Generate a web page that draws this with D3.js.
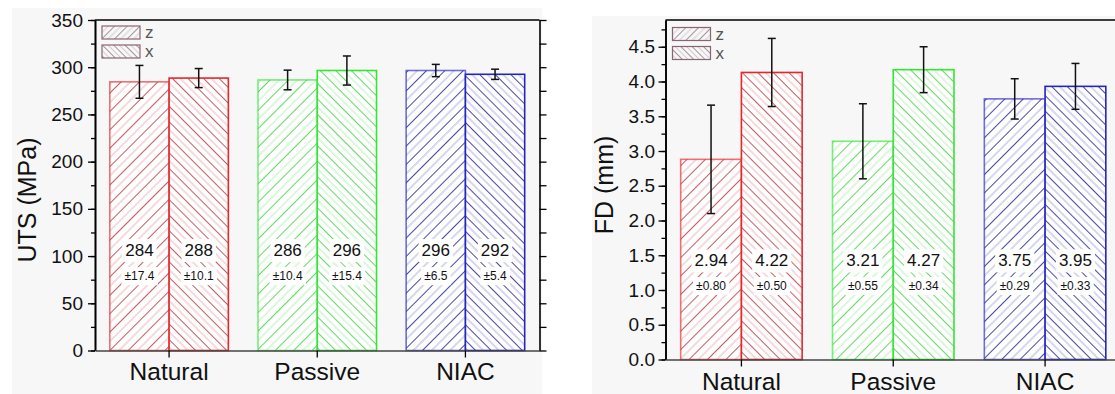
<!DOCTYPE html>
<html>
<head>
<meta charset="utf-8">
<script src="https://cdn.jsdelivr.net/npm/d3@7"></script>
<style>
	body { margin: 0; background: #fff; }
	svg { display: block; font-family: "Liberation Sans", Arial, sans-serif; }
</style>
</head>
<body>
<script>
(function () {
	"use strict";

	var w = 1115;
	var h = 394;

	// data
	var categories = ["Natural", "Passive", "NIAC"];
	var seriesNames = ["z", "x"];

	var utsZ = [284.5, 286.5, 296.5];
	var utsX = [288.5, 296.5, 292.5];
	var utsErrZ = [17.4, 10.4, 6.5];
	var utsErrX = [10.1, 15.4, 5.4];
	var utsTextZ = ["284", "286", "296"];
	var utsTextX = ["288", "296", "292"];
	var utsSdZ = ["±17.4", "±10.4", "±6.5"];
	var utsSdX = ["±10.1", "±15.4", "±5.4"];
	var utsTicks = [0, 50, 100, 150, 200, 250, 300, 350];

	var fdZ = [2.88, 3.14, 3.75];
	var fdX = [4.13, 4.17, 3.93];
	var fdErrZ = [0.78, 0.54, 0.29];
	var fdErrX = [0.49, 0.33, 0.33];
	var fdTextZ = ["2.94", "3.21", "3.75"];
	var fdTextX = ["4.22", "4.27", "3.95"];
	var fdSdZ = ["±0.80", "±0.55", "±0.29"];
	var fdSdX = ["±0.50", "±0.34", "±0.33"];
	var fdTicks = [0, 0.5, 1.0, 1.5, 2.0, 2.5, 3.0, 3.5, 4.0, 4.5];

	var edgeColors = ["#e8262a", "#33e633", "#2424c0"];
	var hatchColors = ["#c0484e", "#4fd64f", "#33339e"];

	var svg = d3.select("body")
		.append("svg")
		.attr("width", w)
		.attr("height", h);

	var defs = svg.append("defs");

	function makeHatch(id, color, angle, size) {
		var p = defs.append("pattern")
			.attr("id", id)
			.attr("patternUnits", "userSpaceOnUse")
			.attr("width", size * 2)
			.attr("height", size * 2)
			.attr("patternTransform", "rotate(" + angle + ")");
		p.append("line")
			.attr("x1", 0.5).attr("y1", 0).attr("x2", 0.5).attr("y2", size * 2)
			.attr("stroke", color).attr("stroke-width", 1).attr("opacity", 0.9);
		p.append("line")
			.attr("x1", size + 0.5).attr("y1", 0).attr("x2", size + 0.5).attr("y2", size * 2)
			.attr("stroke", color).attr("stroke-width", 1).attr("opacity", 0.4);
	}

	categories.forEach(function (c, i) {
		makeHatch("h-" + i + "-z", hatchColors[i], 45, 6.5);
		makeHatch("h-" + i + "-x", hatchColors[i], -45, 5.5);
	});
	makeHatch("h-leg-z", "#9a8a8e", 45, 4.5);
	makeHatch("h-leg-x", "#9a8a8e", -45, 4);

	// faint grey panels behind both plots
	svg.append("rect").attr("x", 12).attr("y", 8).attr("width", 530).attr("height", 386).attr("fill", "#f7f7f7");
	svg.append("rect").attr("x", 592).attr("y", 16).attr("width", 523).attr("height", 378).attr("fill", "#f7f7f7");

	function buildChart(cfg) {
		var g = svg.append("g");

		var xScale = d3.scaleBand()
			.domain(categories)
			.range([cfg.left, cfg.right])
			.paddingInner(0.2)
			.paddingOuter(0.1);

		var xSub = d3.scaleBand()
			.domain(seriesNames)
			.range([0, xScale.bandwidth()]);

		var yScale = d3.scaleLinear()
			.domain([0, cfg.max])
			.range([cfg.bottom, cfg.top]);

		var minor = d3.range(0, cfg.max + 1e-9, cfg.minorStep);

		// bars
		var series = [
			{ key: "z", vals: cfg.z, err: cfg.errZ, txt: cfg.textZ, sd: cfg.sdZ },
			{ key: "x", vals: cfg.x, err: cfg.errX, txt: cfg.textX, sd: cfg.sdX }
		];

		series.forEach(function (s) {
			g.selectAll(null)
				.data(categories)
				.enter()
				.append("rect")
				.attr("x", (d) => xScale(d) + xSub(s.key))
				.attr("y", (d, i) => yScale(s.vals[i]))
				.attr("width", xSub.bandwidth())
				.attr("height", (d, i) => yScale(0) - yScale(s.vals[i]))
				.attr("fill", "#fff")
				.clone()
				.attr("fill", (d, i) => "url(#h-" + i + "-" + s.key + ")")
				.attr("stroke", (d, i) => edgeColors[i])
				.attr("stroke-opacity", s.key == "z" ? 0.65 : 1)
				.attr("stroke-width", 1.6);
		});

		// value labels with white backing
		series.forEach(function (s) {
			categories.forEach(function (c, i) {
				var cx = xScale(c) + xSub(s.key) + xSub.bandwidth() / 2;
				[[s.txt[i], cfg.textAt, 17], [s.sd[i], cfg.sdAt, 12]].forEach(function (t) {
					var back = g.append("rect").attr("fill", "#fff");
					var label = g.append("text")
						.attr("x", cx)
						.attr("y", yScale(t[1]))
						.attr("text-anchor", "middle")
						.attr("font-size", t[2])
						.attr("fill", "#111")
						.text(t[0]);
					var bb = label.node().getBBox();
					back.attr("x", bb.x - 3).attr("y", bb.y - 2)
						.attr("width", bb.width + 6).attr("height", bb.height + 4);
				});
			});
		});

		// error bars
		series.forEach(function (s) {
			categories.forEach(function (c, i) {
				var cx = xScale(c) + xSub(s.key) + xSub.bandwidth() / 2;
				var y1 = yScale(s.vals[i] + s.err[i]);
				var y2 = yScale(s.vals[i] - s.err[i]);
				var eb = g.append("g").attr("stroke", "#111").attr("stroke-width", 1.5);
				eb.append("line").attr("x1", cx).attr("x2", cx).attr("y1", y1).attr("y2", y2);
				eb.append("line").attr("x1", cx - 4).attr("x2", cx + 4).attr("y1", y1).attr("y2", y1);
				eb.append("line").attr("x1", cx - 4).attr("x2", cx + 4).attr("y1", y2).attr("y2", y2);
			});
		});

		// axes
		var yAxisGen = d3.axisLeft(yScale)
			.tickValues(cfg.ticks)
			.tickFormat(cfg.fmt)
			.tickSizeInner(7)
			.tickSizeOuter(0)
			.tickPadding(cfg.tickPad);

		var yMinor = d3.axisLeft(yScale)
			.tickValues(minor)
			.tickFormat("")
			.tickSizeInner(4)
			.tickSizeOuter(0);

		var yRight = d3.axisLeft(yScale)
			.tickValues(minor)
			.tickFormat("")
			.tickSizeInner(-7)
			.tickSizeOuter(0);

		var xAxisGen = d3.axisBottom(xScale)
			.tickSizeInner(7)
			.tickSizeOuter(0);

		g.append("g")
			.attr("transform", "translate(" + cfg.left + ",0)")
			.call(yMinor);

		g.append("g")
			.attr("transform", "translate(" + cfg.right + ",0)")
			.call(yRight);

		var yAxis = g.append("g")
			.attr("transform", "translate(" + cfg.left + ",0)")
			.call(yAxisGen);
		yAxis.selectAll("text").attr("font-size", 19).attr("fill", "#111").attr("font-family", "Liberation Sans, Arial, sans-serif");

		var xAxis = g.append("g")
			.attr("transform", "translate(0," + cfg.bottom + ")")
			.call(xAxisGen);
		xAxis.selectAll("text")
			.attr("font-size", 24.5)
			.attr("fill", "#111")
			.attr("font-family", "Liberation Sans, Arial, sans-serif")
			.attr("dy", null)
			.attr("y", cfg.catBase);
		xAxis.select(".domain").attr("stroke", "#444");

		g.selectAll(".domain").attr("stroke-width", 1.6);
		g.selectAll(".tick line").attr("stroke-width", 1.3);

		// frame top
		g.append("line")
			.attr("x1", cfg.left).attr("x2", cfg.right)
			.attr("y1", cfg.top).attr("y2", cfg.top)
			.attr("stroke", "#000").attr("stroke-width", 1.6);

		// y title
		g.append("text")
			.attr("transform", "translate(" + cfg.titleX + "," + cfg.titleY + ") rotate(-90)")
			.attr("text-anchor", "middle")
			.attr("font-size", 25)
			.attr("fill", "#111")
			.text(cfg.title);

		// legend
		seriesNames.forEach(function (s, i) {
			var ly = cfg.legY + i * 19;
			g.append("rect")
				.attr("x", cfg.left + 7).attr("y", ly)
				.attr("width", 38).attr("height", 13)
				.attr("fill", "url(#h-leg-" + s + ")")
				.attr("stroke", "#8a6474").attr("stroke-width", 1.2);
			g.append("text")
				.attr("x", cfg.left + 50).attr("y", ly + 12)
				.attr("font-size", 17)
				.attr("fill", "#555")
				.text(s);
		});
	}

	buildChart({
		left: 95, right: 539.5, top: 20, bottom: 350.5,
		max: 350, ticks: utsTicks, minorStep: 25, fmt: d3.format("d"), tickPad: 5,
		z: utsZ, x: utsX, errZ: utsErrZ, errX: utsErrX,
		textZ: utsTextZ, textX: utsTextX, sdZ: utsSdZ, sdX: utsSdX,
		textAt: 100, sdAt: 74.5,
		title: "UTS (MPa)", titleX: 36, titleY: 200, catBase: 29.5, legY: 26
	});

	buildChart({
		left: 665.5, right: 1121, top: 20, bottom: 359.5,
		max: 4.885, ticks: fdTicks, minorStep: 0.25, fmt: d3.format(".1f"), tickPad: 3.5,
		z: fdZ, x: fdX, errZ: fdErrZ, errX: fdErrX,
		textZ: fdTextZ, textX: fdTextX, sdZ: fdSdZ, sdX: fdSdX,
		textAt: 1.34, sdAt: 1.0,
		title: "FD (mm)", titleX: 613, titleY: 185, catBase: 30.5, legY: 27.5
	});
})();
</script>
</body>
</html>
